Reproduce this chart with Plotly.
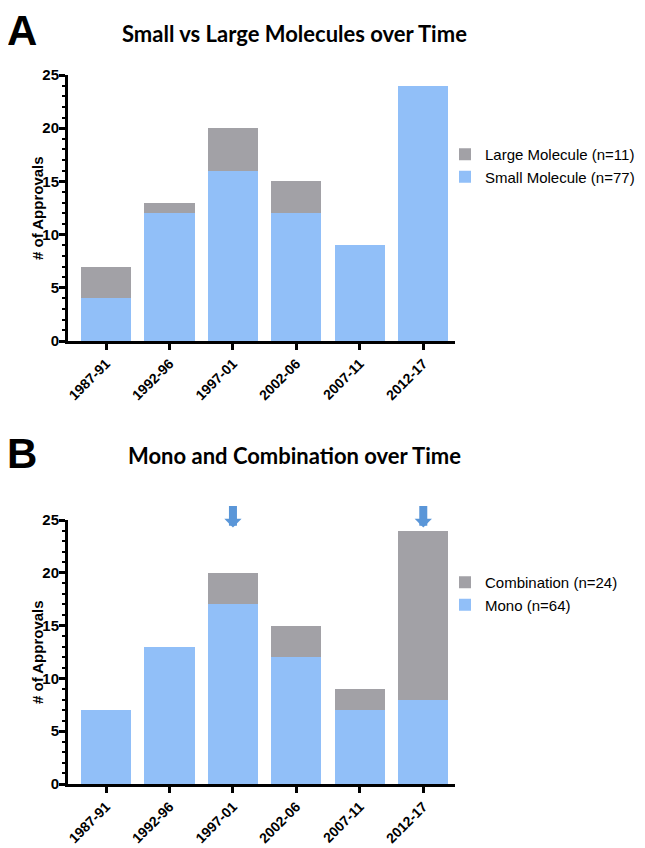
import plotly.graph_objects as go

categories = ["1987-91", "1992-96", "1997-01", "2002-06", "2007-11", "2012-17"]

small_molecule = [4, 12, 16, 12, 9, 24]
large_molecule = [3, 1, 4, 3, 0, 0]

mono = [7, 13, 17, 12, 7, 8]
combination = [0, 0, 3, 3, 2, 16]

arrow_categories = ["1997-01", "2012-17"]
arrow_level = 24.3

title_a = "Small vs Large Molecules over Time"
title_b = "Mono and Combination over Time"
y_title = "# of Approvals"

BLUE = "#91BFF8"
GRAY = "#A2A1A6"
ARROW = "#5A96D8"
ARIAL = "Liberation Sans, Arial"

# page body has an 8px margin: figure covers screen pixels 8..645 x 8..848
OFF = 8
W, H = 645 - OFF, 848 - OFF

def px_x(p):
    return (p - OFF) / W

def px_y(p):
    return 1 - (p - OFF) / H

fig = go.Figure()

fig.add_trace(go.Bar(x=categories, y=small_molecule, name="Small Molecule (n=77)",
                     marker=dict(color=BLUE, line=dict(width=0)), xaxis="x", yaxis="y",
                     legend="legend", legendrank=2))
fig.add_trace(go.Bar(x=categories, y=large_molecule, name="Large Molecule (n=11)",
                     marker=dict(color=GRAY, line=dict(width=0)), xaxis="x", yaxis="y",
                     legend="legend", legendrank=1))
fig.add_trace(go.Bar(x=categories, y=mono, name="Mono (n=64)",
                     marker=dict(color=BLUE, line=dict(width=0)), xaxis="x2", yaxis="y2",
                     legend="legend2", legendrank=2))
fig.add_trace(go.Bar(x=categories, y=combination, name="Combination (n=24)",
                     marker=dict(color=GRAY, line=dict(width=0)), xaxis="x2", yaxis="y2",
                     legend="legend2", legendrank=1))

tickfont = dict(family=ARIAL, size=14, color="black", weight="bold")
ytickfont = dict(family=ARIAL, size=15, color="black", weight="bold")

def xaxis(domain, anchor):
    return dict(domain=domain, anchor=anchor, type="category",
                range=[-0.6, 5.5], showline=True, linecolor="black", linewidth=3,
                ticks="outside", ticklen=6, tickwidth=2.5, tickcolor="black",
                tickangle=-45, tickfont=tickfont, showgrid=False, zeroline=False,
                automargin=False, fixedrange=True)

def yaxis(domain, anchor):
    return dict(domain=domain, anchor=anchor, range=[0, 25], showline=True,
                linecolor="black", linewidth=3, ticks="outside", ticklen=6,
                tickwidth=2.5, tickcolor="black", dtick=5, tickfont=ytickfont,
                ticklabelstandoff=-3,
                showgrid=False, zeroline=False, automargin=False,
                minor=dict(dtick=1, ticks="outside", ticklen=3.5, tickwidth=2,
                           tickcolor="black", showgrid=False))

legend_font = dict(family=ARIAL, size=15, color="black")
x_dom = [px_x(68), px_x(455)]
fig.update_layout(
    width=W, height=H, autosize=False,
    margin=dict(l=0, r=0, t=0, b=0, pad=0, autoexpand=False),
    paper_bgcolor="white", plot_bgcolor="white",
    barmode="stack", bargap=0.21,
    xaxis=xaxis(x_dom, "y"),
    yaxis=yaxis([px_y(341), px_y(75)], "x"),
    xaxis2=xaxis(x_dom, "y2"),
    yaxis2=yaxis([px_y(784), px_y(520)], "x2"),
    legend=dict(x=px_x(445), y=px_y(138), xanchor="left", yanchor="top",
                traceorder="normal", bgcolor="rgba(0,0,0,0)", font=legend_font),
    legend2=dict(x=px_x(445), y=px_y(566), xanchor="left", yanchor="top",
                 traceorder="normal", bgcolor="rgba(0,0,0,0)", font=legend_font),
    showlegend=True,
)

annotations = []
for txt, ypx in [("A", 30), ("B", 453)]:
    annotations.append(dict(text=txt, x=px_x(22), y=px_y(ypx), xref="paper", yref="paper",
                            showarrow=False, xanchor="center", yanchor="middle",
                            font=dict(family=ARIAL, size=42, color="black", weight="bold")))
for txt, ypx in [(title_a, 33), (title_b, 455)]:
    annotations.append(dict(text=txt, x=px_x(294), y=px_y(ypx), xref="paper", yref="paper",
                            showarrow=False, xanchor="center", yanchor="middle",
                            font=dict(family="Lato, Open Sans", size=22,
                                      color="black", weight="bold")))
for ypx in [208, 652]:
    annotations.append(dict(text=y_title, x=px_x(37), y=px_y(ypx), xref="paper", yref="paper",
                            showarrow=False, textangle=-90, xanchor="center", yanchor="middle",
                            font=dict(family=ARIAL, size=15, color="black", weight="bold")))
for c in arrow_categories:
    annotations.append(dict(x=c, y=arrow_level, xref="x2", yref="y2", text="",
                            showarrow=True, ax=0, ay=-23, axref="pixel", ayref="pixel",
                            arrowhead=1, arrowsize=0.36, arrowwidth=8, arrowcolor=ARROW))
fig.update_layout(annotations=annotations)

fig.write_html("out.html", config=dict(responsive=False))
